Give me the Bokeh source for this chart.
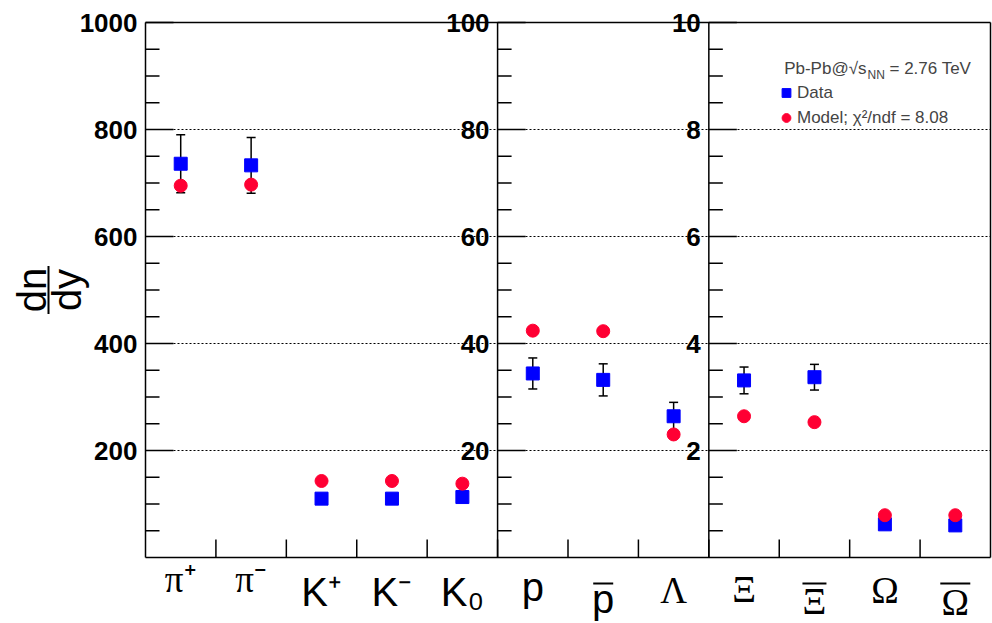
import numpy as np
from bokeh.plotting import figure
from bokeh.models import (Range1d, Label, Legend, LegendItem, ColumnDataSource)
from bokeh.embed import file_html
from bokeh.resources import INLINE

# ---------------- data ----------------
categories = ["pi+", "pi-", "K+", "K-", "K0", "p", "pbar", "Lambda",
              "Xi", "Xibar", "Omega", "Omegabar"]
tick_labels = ["π⁺", "π⁻", "K⁺", "K⁻", "K₀", "p", "p", "Λ", "Ξ", "Ξ", "Ω", "Ω"]
tick_overline = [False, False, False, False, False, False, True, False, False, True, False, True]

meson_names = ["pi+", "pi-", "K+", "K-", "K0"]
meson_data = [736, 733, 110, 110, 113]
meson_err = [54, 52, 9, 9, 9]
meson_model = [695, 697, 143, 143, 138]

baryon_names = ["p", "pbar", "Lambda"]
baryon_data = [34.4, 33.2, 26.4]
baryon_err = [2.9, 3.0, 2.6]
baryon_model = [42.4, 42.3, 23.0]

hyperon_names = ["Xi", "Xibar", "Omega", "Omegabar"]
hyperon_data = [3.31, 3.37, 0.62, 0.60]
hyperon_err = [0.25, 0.24, 0.08, 0.08]
hyperon_model = [2.64, 2.53, 0.79, 0.79]

left_ticks = [200, 400, 600, 800, 1000]
mid_ticks = [20, 40, 60, 80, 100]
right_ticks = [2, 4, 6, 8, 10]

header_text = "Pb-Pb@√s"
header_sub = "NN"
header_energy = "= 2.76 TeV"
legend_data = "Data"
legend_model = "Model; χ²/ndf = 8.08"
ytitle_num = "dn"
ytitle_den = "dy"

BLUE = "#0000ff"
RED = "#ff0033"
FONT = "Liberation Sans"
GREEK_FONT = "Liberation Serif"

# ---------------- geometry (window pixels) ----------
W, H = 992, 623
FL, FR, FT, FB = 145, 990, 22, 557   # visible box of the chart
TOPPAD = 4
ncat = len(categories)
PXX = (FR - FL) / ncat
PXY = (FB - FT) / 1000.0

# label styling (window pixel baselines, bar widths)
FS_LATIN, FS_GREEK = 40, 37
label_baseline = {"π": 592, "K": 605, "p": 600, "Λ": 603, "Ξ": 602, "Ω": 603}
bar_width = {"p": 20, "Ξ": 24, "Ω": 30}
OVERLINE_SHIFT = 12
BAR_Y = 583
MID_TO_BASE = 0.35            # baseline lies this many em below a 'middle' anchor


def dx(px):
    return (px - FL) / PXX


def dy(py):
    return (FB - py) / PXY


def mid_from_baseline(py, fs):
    return dy(py - MID_TO_BASE * fs)


ymax_ext = (FB - TOPPAD) / PXY
ymin_ext = (FB - H) / PXY

p = figure(width=W, height=H,
           x_range=Range1d(-FL / PXX, (W - FL) / PXX), y_range=Range1d(ymin_ext, ymax_ext),
           output_backend="svg", toolbar_location=None,
           x_axis_location=None, y_axis_location=None,
           min_border_left=0, min_border_right=0, min_border_top=TOPPAD, min_border_bottom=0)
p.extra_y_ranges = {"mid": Range1d(ymin_ext / 10, ymax_ext / 10),
                    "right": Range1d(ymin_ext / 100, ymax_ext / 100)}
p.background_fill_color = "white"
p.border_fill_color = "white"
p.outline_line_color = None
p.grid.visible = False

# dotted horizontal grid at the major ticks
grid_vals = left_ticks[:-1]
p.segment(x0=[0] * len(grid_vals), x1=[ncat] * len(grid_vals), y0=grid_vals, y1=grid_vals,
          line_color="black", line_dash="2 2", line_width=1.2)

# box edges (top, right, bottom) and the three vertical axis lines
edge_x0 = [0, ncat, 0, 0, 5, 8]
edge_x1 = [ncat, ncat, ncat, 0, 5, 8]
edge_y0 = [1000, 0, 0, 0, 0, 0]
edge_y1 = [1000, 1000, 0, 1000, 1000, 1000]
p.segment(x0=edge_x0, y0=edge_y0, x1=edge_x1, y1=edge_y1, line_color="black", line_width=1.5)

# x axis: ticks at category boundaries, labels at category centres
bounds = list(range(1, ncat))
p.ray(x=bounds, y=[0] * len(bounds), length=18, length_units="screen", angle=np.pi / 2,
      line_color="black", line_width=1.5)
bar_x, bar_y, bar_w = [], [], []
for i, (txt, ov) in enumerate(zip(tick_labels, tick_overline)):
    base = txt[0]
    greek = base in "πΛΞΩ"
    fs = FS_GREEK if greek else FS_LATIN
    base_px = label_baseline[base] + (OVERLINE_SHIFT if ov else 0)
    p.add_layout(Label(x=i + 0.5, y=mid_from_baseline(base_px, fs), text=txt,
                       text_align="center", text_baseline="middle",
                       text_font=GREEK_FONT if greek else FONT,
                       text_font_size=f"{fs}px", text_color="black"))
    if ov:
        bar_x.append(i + 0.5)
        bar_y.append(dy(BAR_Y))
        bar_w.append(bar_width[base])
p.scatter(x=bar_x, y=bar_y, size=bar_w, marker="dash", line_color="black", line_width=2)

panels = [
    (meson_names, meson_data, meson_err, meson_model, "default", 1000, left_ticks),
    (baryon_names, baryon_data, baryon_err, baryon_model, "mid", 100, mid_ticks),
    (hyperon_names, hyperon_data, hyperon_err, hyperon_model, "right", 10, right_ticks),
]

legend_renderers = None
for names, data, err, model, rname, ymax, ticks in panels:
    # axis of the panel: ticks and labels
    x0 = categories.index(names[0])
    step = ymax / 20
    minors = [v for v in np.arange(step, ymax, step)
              if not any(abs(v - t) < 1e-9 for t in ticks)]
    p.ray(x=[x0] * len(ticks), y=ticks, length=28, length_units="screen", angle=0,
          line_color="black", line_width=1.5, y_range_name=rname)
    p.ray(x=[x0] * len(minors), y=minors, length=14, length_units="screen", angle=0,
          line_color="black", line_width=1.5, y_range_name=rname)
    for t in ticks:
        p.add_layout(Label(x=x0, y=t, x_offset=-8, y_range_name=rname, text=f"{t:g}",
                           text_align="right", text_baseline="middle",
                           text_font=FONT, text_font_style="bold",
                           text_font_size="26px", text_color="black"))

    xs = [categories.index(n) + 0.5 for n in names]
    d = np.array(data, dtype=float)
    e = np.array(err, dtype=float)
    src = ColumnDataSource(dict(x=xs, data=d, lo=d - e, hi=d + e, model=model))
    p.segment(x0="x", y0="lo", x1="x", y1="hi", source=src, line_color="black",
              line_width=1.5, y_range_name=rname)
    p.scatter(x="x", y="hi", source=src, marker="dash", size=9, line_color="black",
              line_width=1.5, y_range_name=rname)
    p.scatter(x="x", y="lo", source=src, marker="dash", size=9, line_color="black",
              line_width=1.5, y_range_name=rname)
    rd = p.scatter(x="x", y="data", source=src, marker="square", size=13,
                   fill_color=BLUE, line_color=BLUE, y_range_name=rname)
    rm = p.scatter(x="x", y="model", source=src, marker="circle", size=13,
                   fill_color=RED, line_color=RED, y_range_name=rname)
    legend_renderers = (rd, rm)

# y title: dn over dy, rotated
YMID_PX = (FT + FB) / 2
for txt, px in ((ytitle_num, 31), (ytitle_den, 66)):
    p.add_layout(Label(x=dx(px), y=dy(YMID_PX), text=txt, angle=np.pi / 2, angle_units="rad",
                       text_align="center", text_baseline="alphabetic",
                       text_font=FONT, text_font_size="40px", text_color="black"))
p.segment(x0=[dx(48)], x1=[dx(48)], y0=[dy(YMID_PX - 24)], y1=[dy(YMID_PX + 24)],
          line_color="black", line_width=2)

# header
p.add_layout(Label(x=dx(866), y=mid_from_baseline(74, 17), text=header_text,
                   text_align="right", text_baseline="middle",
                   text_font=FONT, text_font_size="17px"))
p.add_layout(Label(x=dx(867), y=mid_from_baseline(79, 12), text=header_sub,
                   text_align="left", text_baseline="middle",
                   text_font=FONT, text_font_size="12px"))
p.add_layout(Label(x=dx(889), y=mid_from_baseline(74, 17), text=header_energy,
                   text_align="left", text_baseline="middle",
                   text_font=FONT, text_font_size="17px"))

legend = Legend(items=[LegendItem(label=legend_data, renderers=[legend_renderers[0]]),
                       LegendItem(label=legend_model, renderers=[legend_renderers[1]])],
                location=(775, H - 130), orientation="vertical",
                padding=0, margin=0, spacing=0, glyph_width=22, glyph_height=25,
                label_height=25, label_standoff=0, label_text_font=FONT,
                label_text_font_size="17px", border_line_alpha=0,
                background_fill_alpha=0)
p.add_layout(legend, "center")

open("out.html", "w").write(file_html(p, INLINE))
